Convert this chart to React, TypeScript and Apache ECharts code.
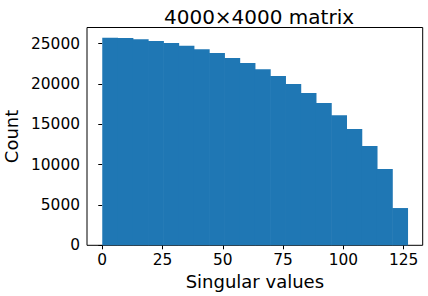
import React, { useEffect, useRef } from "react";
import * as echarts from "echarts";

const title = "4000×4000 matrix";
const xLabel = "Singular values";
const yLabel = "Count";
const binEdges = [0, 6.33, 12.66, 18.99, 25.32, 31.65, 37.98, 44.31, 50.64, 56.97, 63.3, 69.63, 75.96, 82.29, 88.62, 94.95, 101.28, 107.61, 113.94, 120.27, 126.6];
const counts = [25720, 25700, 25560, 25330, 25080, 24740, 24320, 23830, 23210, 22590, 21840, 20980, 19990, 18870, 17630, 16140, 14410, 12300, 9450, 4620];
const xTicks = [0, 25, 50, 75, 100, 125];
const yTicks = [0, 5000, 10000, 15000, 20000, 25000];

export default function App() {
  const ref = useRef<HTMLDivElement>(null);
  useEffect(() => {
    if (!ref.current) return;
    const chart = echarts.init(ref.current, null, { renderer: "svg" });
    const data = counts.map((c, i) => [binEdges[i], binEdges[i + 1], c]);
    const span = binEdges[binEdges.length - 1] - binEdges[0];
    const xMin = binEdges[0] - span * 0.05;
    const xMax = binEdges[binEdges.length - 1] + span * 0.05;
    const yMax = Math.max(...counts) * 1.05;
    const font = "DejaVu Sans";
    chart.setOption({
      animation: false,
      backgroundColor: "#fff",
      title: {
        text: title,
        left: 254,
        textAlign: "center",
        top: 2,
        textStyle: { fontFamily: font, fontSize: 20, fontWeight: "normal", color: "#000" },
      },
      grid: {
        left: 87,
        right: 5.3,
        top: 27.5,
        bottom: 50.7,
        containLabel: false,
        outerBoundsMode: "none",
        show: true,
        borderColor: "#000",
        borderWidth: 1,
        backgroundColor: "transparent",
      },
      xAxis: {
        type: "value",
        min: xMin,
        max: xMax,
        name: xLabel,
        nameLocation: "middle",
        nameGap: 27,
        nameTextStyle: { fontFamily: font, fontSize: 18, color: "#000" },
        splitLine: { show: false },
        axisLine: { show: false },
        axisTick: { show: true, inside: false, customValues: xTicks, length: 4, lineStyle: { color: "#000" } },
        axisLabel: { customValues: xTicks, fontFamily: font, fontSize: 15.4, color: "#000", margin: 7, formatter: (v: number) => String(v) },
      },
      yAxis: {
        type: "value",
        min: 0,
        max: yMax,
        name: yLabel,
        nameLocation: "middle",
        nameGap: 62,
        nameTextStyle: { fontFamily: font, fontSize: 18, color: "#000" },
        splitLine: { show: false },
        axisLine: { show: false },
        axisTick: { show: true, inside: false, customValues: yTicks, length: 4, lineStyle: { color: "#000" } },
        axisLabel: { customValues: yTicks, fontFamily: font, fontSize: 15.4, color: "#000", margin: 7, formatter: (v: number) => String(v) },
      },
      series: [
        {
          type: "custom",
          data,
          encode: { x: [0, 1], y: 2 },
          renderItem: (params: any, api: any) => {
            const start = api.coord([api.value(0), api.value(2)]);
            const end = api.coord([api.value(1), 0]);
            return {
              type: "rect",
              shape: { x: start[0], y: start[1], width: end[0] - start[0] + 0.6, height: end[1] - start[1] },
              style: { fill: "#1f77b4" },
            };
          },
        },
      ],
    });
    return () => chart.dispose();
  }, []);
  return <div ref={ref} style={{ width: 428, height: 296, position: "absolute", left: 0, top: 0 }} />;
}
